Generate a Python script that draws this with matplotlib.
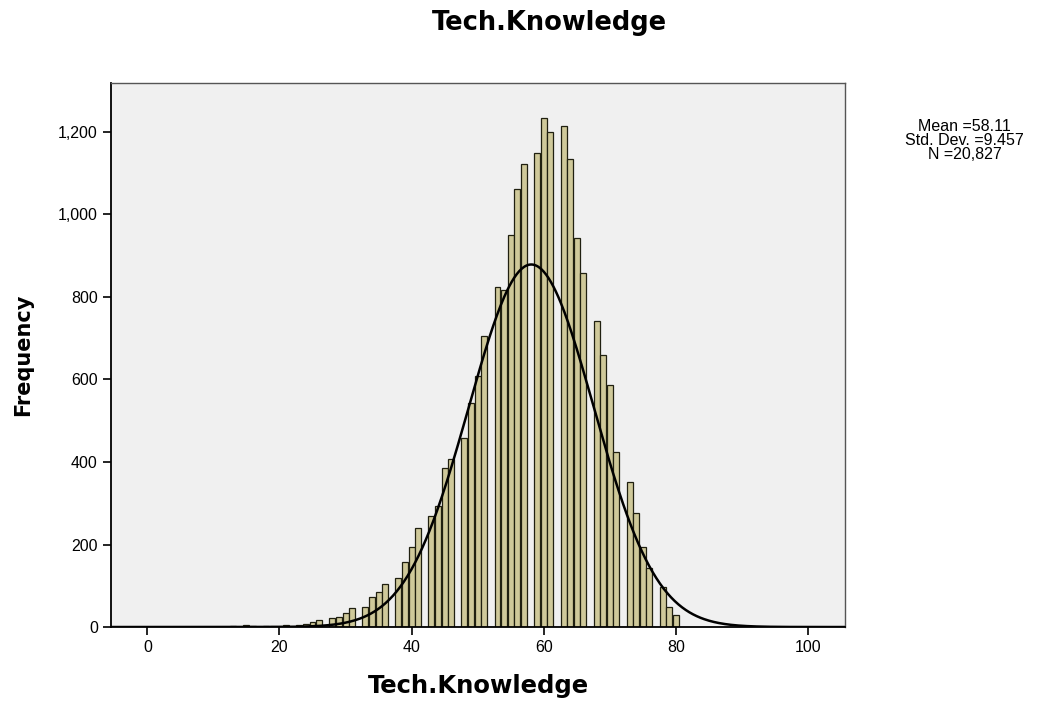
import matplotlib
matplotlib.use('Agg')
import matplotlib.pyplot as plt
import numpy as np

plt.rcParams['font.family'] = ['Liberation Sans', 'DejaVu Sans']

# histogram bins (centre value) and counts
bin_centres = list(range(6, 81))
counts = [
    1, 0, 0, 0, 0, 0, 0, 2, 0, 4,        # 6-15
    3, 0, 2, 2, 3, 4, 0, 6, 7, 12,       # 16-25
    16, 0, 23, 25, 35, 45, 0, 48, 72, 86,   # 26-35
    105, 0, 120, 157, 194, 240, 0, 269, 293, 385,   # 36-45
    407, 0, 457, 544, 609, 706, 0, 825, 817, 950,   # 46-55
    1061, 1122, 0, 1150, 1233, 1199, 0, 1215, 1134, 942,   # 56-65
    859, 0, 742, 659, 587, 425, 0, 351, 276, 195,   # 66-75
    143, 0, 96, 49, 29,   # 76-80
]

mean = 58.11
std_dev = 9.457
n_total = 20827
bin_width = 1.0

x_ticks = [0, 20, 40, 60, 80, 100]
y_ticks = [0, 200, 400, 600, 800, 1000, 1200]
y_labels = ['0', '200', '400', '600', '800', '1,000', '1,200']

fig = plt.figure(figsize=(10.6, 7.02), dpi=100)
ax = fig.add_axes([0.1047, 0.1068, 0.6925, 0.7753])
ax.set_facecolor('#f0f0f0')

ax.bar(bin_centres, counts, width=0.9 * bin_width, color='#cfc99a',
       edgecolor='#202010', linewidth=0.9, zorder=2)

# normal curve scaled to counts
xs = np.linspace(-5.5, 105.6, 600)
ys = n_total * bin_width / (std_dev * np.sqrt(2 * np.pi)) * np.exp(-0.5 * ((xs - mean) / std_dev) ** 2)
ax.plot(xs, ys, color='black', linewidth=1.8, zorder=3)

ax.set_xlim(-5.5, 105.6)
ax.set_ylim(0, 1319)
ax.set_xticks(x_ticks)
ax.set_xticklabels([str(t) for t in x_ticks])
ax.set_yticks(y_ticks)
ax.set_yticklabels(y_labels)
ax.tick_params(axis='both', direction='out', length=6, width=1.2, labelsize=11.5, colors='black')

for side in ['left', 'bottom']:
    ax.spines[side].set_color('black')
    ax.spines[side].set_linewidth(1.3)
for side in ['top', 'right']:
    ax.spines[side].set_color('#555555')
    ax.spines[side].set_linewidth(1.0)

# titles: the original text is wide, DejaVu bold is closer to it
wide = ['DejaVu Sans']
fig.text(0.451, 0.023, 'Tech.Knowledge', ha='center', va='center',
         fontsize=17.5, fontweight='bold', family=wide)
fig.text(0.022, 0.494, 'Frequency', ha='center', va='center', rotation=90,
         fontsize=15, fontweight='bold', family=wide)
fig.text(0.518, 0.967, 'Tech.Knowledge', ha='center', va='center',
         fontsize=18.5, fontweight='bold', family=wide)

stats = 'Mean =%.2f\nStd. Dev. =%.3f\nN =%s' % (mean, std_dev, format(n_total, ','))
fig.text(0.910, 0.80, stats, ha='center', va='center', fontsize=11.5,
         linespacing=0.92)

fig.savefig('out.png', dpi=100)
